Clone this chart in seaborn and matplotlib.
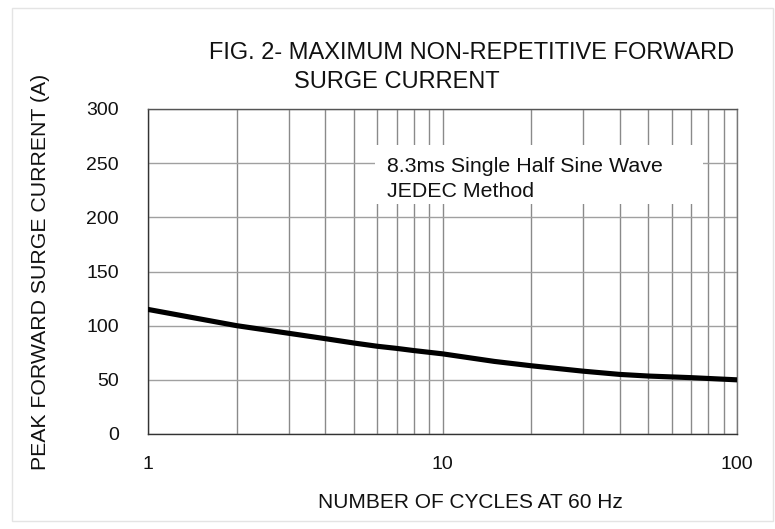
import matplotlib
matplotlib.use("Agg")
import matplotlib.pyplot as plt
import seaborn as sns
import pandas as pd
from matplotlib.patches import Rectangle

cycles = [1, 2, 3, 4, 5, 6, 7, 8, 10, 15, 20, 30, 40, 50, 70, 100]
current = [115, 100, 93, 88, 84, 81, 79, 77, 74, 67, 63, 58, 55, 53.5, 52, 50]
y_ticks = [0, 50, 100, 150, 200, 250, 300]
x_ticks = [1, 10, 100]
x_tick_labels = ["1", "10", "100"]

title1 = "FIG. 2- MAXIMUM NON-REPETITIVE FORWARD"
title2 = "SURGE CURRENT"
note1 = "8.3ms Single Half Sine Wave"
note2 = "JEDEC Method"
xlabel = "NUMBER OF CYCLES AT 60 Hz"
ylabel = "PEAK FORWARD SURGE CURRENT (A)"

sns.set_theme(style="white")
plt.rcParams["font.family"] = ["Liberation Sans", "DejaVu Sans"]
TXT = "#111111"

df = pd.DataFrame({"cycles": cycles, "current": current})

fig = plt.figure(figsize=(7.75, 5.29), dpi=100)
W, H = 775, 529
left, right, top, bottom = 148, 737, 109, 434
aw, ah = right - left, bottom - top
ax = fig.add_axes([left / W, (H - bottom) / H, aw / W, ah / H])

def axfrac(px, py):
    return (px - left) / aw, (bottom - py) / ah

sns.lineplot(data=df, x="cycles", y="current", ax=ax, color="black", lw=3.7, zorder=5)
ax.set_xscale("log")
ax.set_xlim(1, 100)
ax.set_ylim(0, 300)
ax.set_yticks(y_ticks)
ax.set_xticks(x_ticks)
ax.set_xticklabels(x_tick_labels)
ax.xaxis.set_minor_locator(matplotlib.ticker.LogLocator(base=10, subs=range(2, 10)))
ax.xaxis.set_minor_formatter(matplotlib.ticker.NullFormatter())
ax.grid(True, which="both", axis="x", color="#8a8a8a", lw=1.0)
ax.grid(True, which="major", axis="y", color="#a0a0a0", lw=1.0)
ax.set_axisbelow(True)
ax.tick_params(which="both", length=0)
ax.tick_params(axis="y", pad=21, labelsize=14, labelcolor=TXT)
ax.tick_params(axis="x", pad=16, labelsize=14, labelcolor=TXT)
for s in ax.spines.values():
    s.set_color("#555555")
    s.set_linewidth(1.0)
ax.spines["left"].set_color("#333333")
ax.spines["bottom"].set_color("#333333")
ax.spines["right"].set_color("#777777")

ax.set_xlabel("")
ax.set_ylabel(ylabel, fontsize=15.3, labelpad=26, color=TXT)

# white note box
bx0, by0 = axfrac(375, 204)
bx1, by1 = axfrac(703, 145)
ax.add_patch(Rectangle((bx0, by0), bx1 - bx0, by1 - by0, transform=ax.transAxes,
                       facecolor="white", edgecolor="none", zorder=3))
tx, ty1 = axfrac(387, 172)
_, ty2 = axfrac(387, 197)
ax.text(tx, ty1, note1, transform=ax.transAxes, fontsize=15.4, ha="left", va="baseline", color=TXT, zorder=4)
ax.text(tx, ty2, note2, transform=ax.transAxes, fontsize=15.4, ha="left", va="baseline", color=TXT, zorder=4)

fig.text(470 / W, 1 - 508 / H, xlabel, fontsize=15, ha="center", va="baseline", color=TXT)
fig.text(209 / W, 1 - 59 / H, title1, fontsize=17, ha="left", va="baseline", color=TXT)
fig.text(294 / W, 1 - 88 / H, title2, fontsize=17, ha="left", va="baseline", color=TXT)

fig.patches.append(Rectangle((12 / W, 8 / H), (773 - 12) / W, (521 - 8) / H,
                             transform=fig.transFigure, fill=False, ec="#e4e4e4", lw=1.0))

fig.savefig("out.png", dpi=100, facecolor="white")
